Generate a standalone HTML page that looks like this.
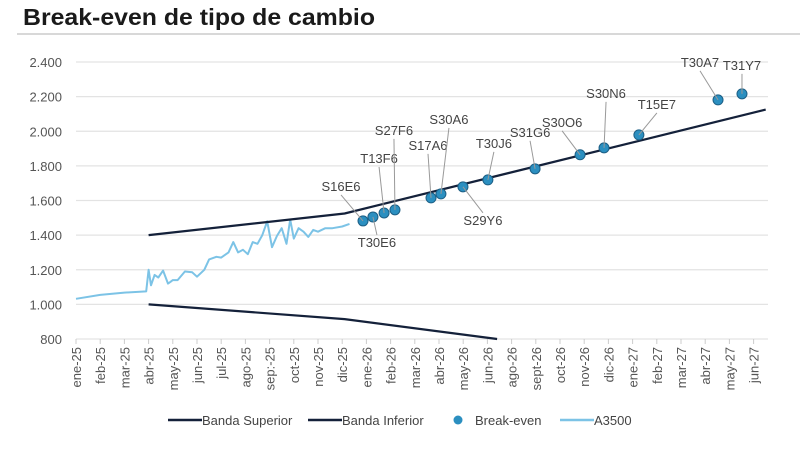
<!DOCTYPE html>
<html><head><meta charset="utf-8"><style>
body{margin:0;width:800px;height:450px;background:#fff;overflow:hidden;font-family:"Liberation Sans",sans-serif}
</style></head><body>
<svg id="chart" width="800" height="450" xmlns="http://www.w3.org/2000/svg">
<text x="23" y="25" font-size="23" font-weight="bold" fill="#1a1a1a" font-family="Liberation Sans, sans-serif" textLength="352" lengthAdjust="spacingAndGlyphs">Break-even de tipo de cambio</text>
<line x1="17" y1="34" x2="800" y2="34" stroke="#ccc" stroke-width="1.5"/>
<g id="grid"></g><g id="series"></g><g id="labels"></g><g id="legend"></g>
</svg>
<script>
const categories=["ene-25","feb-25","mar-25","abr-25","may-25","jun-25","jul-25","ago-25","sep:-25","oct-25","nov-25","dic-25","ene-26","feb-26","mar-26","abr-26","may-26","jun-26","ago-26","sept-26","oct-26","nov-26","dic-26","ene-27","feb-27","mar-27","abr-27","may-27","jun-27"];
const yTicks=[800,1000,1200,1400,1600,1800,2000,2200,2400];
const yTickLabels=["800","1.000","1.200","1.400","1.600","1.800","2.000","2.200","2.400"];
const upperX=[3,11.1,28.5];
const upperY=[1400,1525,2125];
const lowerX=[3,11.1,17.4];
const lowerY=[1000,915,800];
const a3500X=[0,1,2,2.9,3.0,3.1,3.25,3.4,3.6,3.8,3.9,4.0,4.2,4.5,4.8,5.0,5.3,5.5,5.8,6.0,6.3,6.5,6.7,6.9,7.1,7.3,7.5,7.7,7.9,8.1,8.3,8.5,8.7,8.85,9.0,9.2,9.4,9.6,9.8,10.0,10.3,10.6,11.0,11.3];
const a3500Y=[1032,1055,1068,1075,1200,1110,1170,1155,1195,1120,1130,1140,1140,1190,1185,1160,1200,1260,1275,1270,1300,1360,1300,1315,1290,1360,1350,1400,1480,1330,1395,1440,1350,1490,1380,1440,1420,1390,1430,1420,1440,1440,1450,1465];
const beNames=["S16E6","T30E6","T13F6","S27F6","S17A6","S30A6","S29Y6","T30J6","S31G6","S30O6","S30N6","T15E7","T30A7","T31Y7"];
const beX=[11.86,12.27,12.73,13.18,14.67,15.08,15.99,17.02,18.97,20.83,21.82,23.26,26.53,27.52];
const beY=[1482,1505,1528,1546,1615,1638,1679,1719,1783,1864,1904,1979,2181,2216];

const x0=76,dx=24.2,yBot=339,yTop=62;
const X=i=>x0+i*dx;
const Y=v=>yBot-(v-800)/1600*(yBot-yTop);
const NS="http://www.w3.org/2000/svg";
function mk(tag,attrs,parent,txt){const e=document.createElementNS(NS,tag);for(const k in attrs)e.setAttribute(k,attrs[k]);if(txt!==undefined)e.textContent=txt;parent.appendChild(e);return e;}
const grid=document.getElementById('grid'),ser=document.getElementById('series'),lab=document.getElementById('labels'),leg=document.getElementById('legend');
yTicks.forEach((v,i)=>{
 const l=mk('line',{x1:x0,x2:768,y1:Y(v),y2:Y(v),stroke:'#e3e3e3','stroke-width':1.2},grid);
 
 
 const t=mk('text',{x:62,y:Y(v)+5,'text-anchor':'end','font-size':13,fill:'#555'},grid,yTickLabels[i]);
 
 
});
categories.forEach((c,i)=>{
 const tk=mk('line',{x1:X(i),x2:X(i),y1:yBot,y2:yBot+5,stroke:'#ccc'},grid);
 
 
 const t=mk('text',{transform:`translate(${X(i)+5},${yBot+8}) rotate(-90)`,'text-anchor':'end','font-size':13,fill:'#555'},grid,c);
 
 
});
function line(xs,ys,col,w,name){
 const d=xs.map((x,i)=>(i?'L':'M')+X(x).toFixed(1)+','+Y(ys[i]).toFixed(1)).join(' ');
 const p=mk('path',{d:d,fill:'none',stroke:col,'stroke-width':w,'stroke-linejoin':'round'},ser);
 
 
}
line(a3500X,a3500Y,'#7cc3e6',2,'a3500-line');
line(upperX,upperY,'#14213a',2.2,'banda-superior-line');
line(lowerX,lowerY,'#14213a',2.2,'banda-inferior-line');
const off=[[-22,-30],[4,30],[-5,-50],[-1,-75],[-3,-48],[8,-70],[20,38],[6,-32],[-5,-32],[-18,-28],[2,-50],[18,-26],[-18,-33],[0,-24]];
beNames.forEach((n,i)=>{
 const px=X(beX[i]),py=Y(beY[i]);const tx=px+off[i][0],ty=py+off[i][1];
 const ll=mk('line',{x1:px,y1:py,x2:tx,y2:ty+(off[i][1]<0?4:-12),stroke:'#999','stroke-width':1},lab);
 
 
 const t=mk('text',{x:tx,y:ty,'text-anchor':'middle','font-size':13,fill:'#444'},lab,n);
 
 
});
beNames.forEach((n,i)=>{
 const c=mk('circle',{cx:X(beX[i]),cy:Y(beY[i]),r:5,fill:'#2b8fc0',stroke:'#1d5f85','stroke-width':1},ser);
 
 
});
const items=[['line','#14213a','Banda Superior',168],['line','#14213a','Banda Inferior',308],['dot','#2b8fc0','Break-even',458],['line','#7cc3e6','A3500',560]];
items.forEach(it=>{
 const g=mk('g',{},leg);
 
 
 let tx;
 if(it[0]==='line'){mk('line',{x1:it[3],x2:it[3]+34,y1:420,y2:420,stroke:it[1],'stroke-width':2.5},g);tx=it[3]+34;}
 else{mk('circle',{cx:it[3],cy:420,r:4.5,fill:it[1]},g);tx=it[3]+17;}
 mk('text',{x:tx,y:425,'font-size':13,fill:'#444'},g,it[2]);
});
</script>
</body></html>
